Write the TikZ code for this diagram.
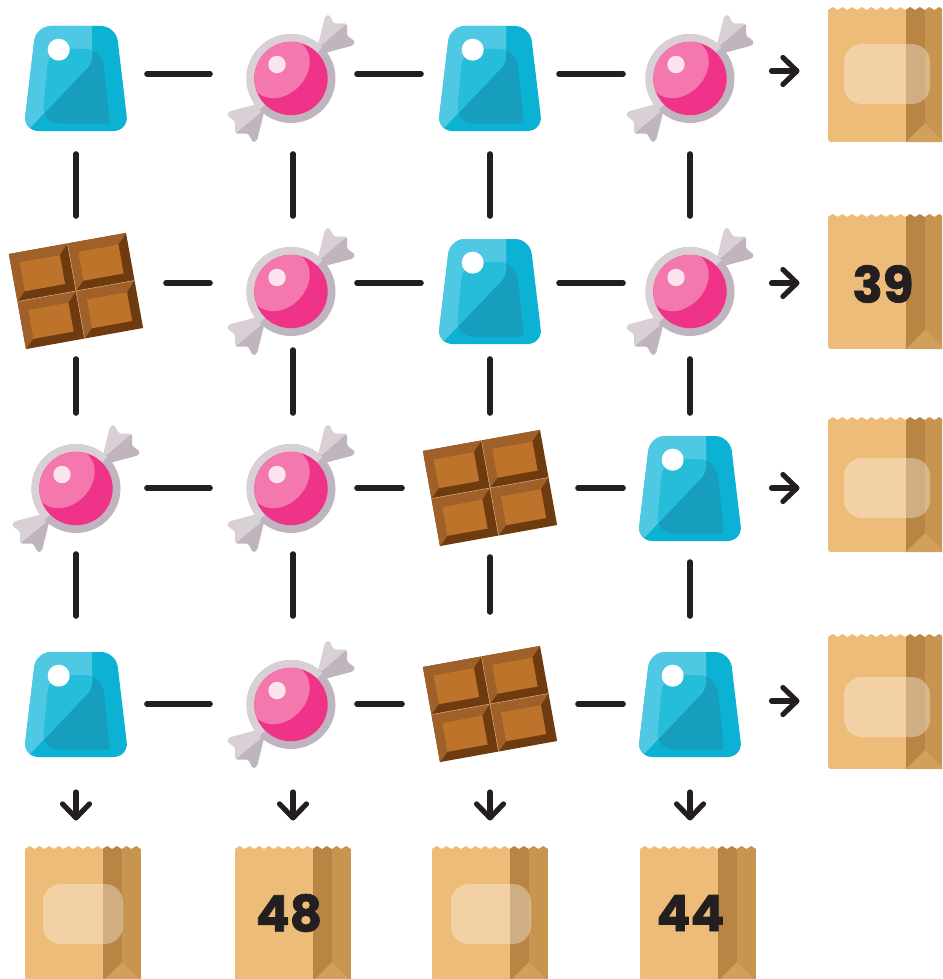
\documentclass[tikz,border=0pt]{standalone}
\usepackage{fontspec}
\newfontfamily\numfont[FakeBold=1.5]{Poppins Bold}
\usetikzlibrary{arrows.meta}
\definecolor{ink}{HTML}{231F20}
\definecolor{gumbase}{HTML}{0CB2D3}
\definecolor{gumlight}{HTML}{4FC8E3}
\definecolor{gumin}{HTML}{179EBE}
\definecolor{guminl}{HTML}{25BDD9}
\definecolor{wrapl}{HTML}{D8D0D5}
\definecolor{wrapd}{HTML}{C0B4BF}
\definecolor{pinkd}{HTML}{EF3389}
\definecolor{pinkl}{HTML}{F478AE}
\definecolor{chocd}{HTML}{6E3B10}
\definecolor{chocm}{HTML}{9F602A}
\definecolor{chocl}{HTML}{BD7329}
\definecolor{bagm}{HTML}{EDBC78}
\definecolor{bagd}{HTML}{B98545}
\definecolor{bags}{HTML}{C7954F}
\definecolor{bagt}{HTML}{D1A05A}
\tikzset{
  cell/.style={coordinate},
  link/.style={draw=ink, line width=5.6pt, line cap=round, shorten <=#1},
  outarrow/.style={draw=ink, line width=5.2pt, line cap=round, -{Straight Barb[length=14pt,width=27pt,round]}},
  plate/.style={fill=white, opacity=.33, rounded corners=18pt, minimum height=60pt, inner sep=0pt, minimum width=#1},
  num/.style={text=ink, font=\numfont\fontsize{50}{50}\selectfont, inner sep=0pt},
  bagbox/.style={minimum width=116pt, minimum height=135pt, inner sep=0pt, anchor=north west},
  gum/.pic={
    \begin{scope}
      \clip[rounded corners=15pt] (-40,-52) -- (40,-52) -- (52.5,53) -- (-52.5,53) -- cycle;
      \fill[gumbase] (-60,-60) rectangle (60,60);
      \fill[gumin, rounded corners=3pt] (-34,45.5) -- (34,45.5) [rounded corners=17pt] -- (26,-29) -- (-27,-29) -- cycle;
      \clip (-60,-60) -- (16,-60) -- (16,-23) .. controls (16,-15) and (12,-10) .. (7.5,-6.3) -- (-46,50) -- (-60,60) -- cycle;
      \fill[gumlight] (-60,-60) rectangle (60,60);
      \fill[guminl, rounded corners=3pt] (-34,45.5) -- (34,45.5) [rounded corners=17pt] -- (26,-29) -- (-27,-29) -- cycle;
    \end{scope}
    \fill[white] (-17.3,-28.3) circle[radius=11];
  },
  candy/.pic={
    \begin{scope}[rounded corners=1.5pt]
      \fill[wrapl] (26,-30) -- (34,-62) -- (38,-64) -- (43,-55) -- (56,-55) -- cycle;
      \fill[wrapd] (24,-28) -- (56,-55) -- (56,-43) -- (64,-37) -- (62,-33) -- (28,-24) -- cycle;
      \fill[wrapd] (-26,30) -- (-34,62) -- (-38,64) -- (-43,55) -- (-56,55) -- cycle;
      \fill[wrapl] (-24,28) -- (-56,55) -- (-56,43) -- (-64,37) -- (-62,33) -- (-28,24) -- cycle;
    \end{scope}
    \fill[wrapd] (0,0) circle[radius=44.5];
    \begin{scope}
      \clip (-60,60) -- (60,-60) -- (-60,-60) -- cycle;
      \fill[wrapl] (0,0) circle[radius=44.5];
    \end{scope}
    \fill[pinkd] (0,0) circle[radius=36.7];
    \begin{scope}
      \clip (0,0) circle[radius=36.7];
      \fill[pinkl, rotate around={45:(-11,-10)}] (-11,-10) ellipse[x radius=33, y radius=26];
    \end{scope}
    \fill[white, opacity=.8] (-14,-14) circle[radius=8.7];
  },
  choc/.pic={
    \begin{scope}[rotate=10.2]
      \foreach \cx/\cy in {-59.5/-48.3, 0/-48.3, -59.5/0, 0/0}{
        \begin{scope}[shift={(\cx,\cy)}]
          \fill[chocd] (0,0) rectangle (59.5,48.3);
          \fill[chocm] (0,0) -- (59.5,0) -- (50,10) -- (9,10) -- (9,39.5) -- (0,48.3) -- cycle;
          \fill[chocl] (9,10) rectangle (50,39.5);
        \end{scope}
      }
      \draw[line width=.5pt, chocl!60!white] (0,-48.3) -- (0,48.3) (-59.5,0) -- (59.5,0);
    \end{scope}
  },
  bag/.pic={
    \begin{scope}
      \clip (0,3) \foreach \k in {0,...,11}{
        .. controls ({\k*9.67+2.4},3) and ({\k*9.67+2.4},0) .. ({\k*9.67+4.83},0)
        .. controls ({\k*9.67+7.2},0) and ({\k*9.67+7.2},3) .. ({(\k+1)*9.67},3)
      } -- (116,135) -- (3,135) .. controls (1,135) and (0,134) .. (0,132) -- cycle;
      \fill[bagm] (0,0) rectangle (78,135);
      \fill[bagd] (78,0) rectangle (97,135);
      \fill[bags] (97,0) rectangle (116,135);
      \fill[bagt] (78,135) -- (97,116) -- (116,135) -- cycle;
    \end{scope}
  }
}
\begin{document}
\begin{tikzpicture}[x=1pt, y=-1pt]
  \clip (0,0) rectangle (942,979);
  % the sweets
  \foreach \x/\y in {76/78, 490/78, 490/291, 690/488, 76/704, 690/704}
    \pic at (\x,\y) {gum};
  \foreach \x/\y in {291/78.5, 690/78.5, 291/291.5, 690/291.5, 76/488.5, 291/488.5, 291/704.5}
    \pic at (\x,\y) {candy};
  \foreach \x/\y in {76/291, 490/488, 490/704}
    \pic at (\x,\y) {choc};
  % the bags
  \foreach \nm/\x/\y in {br1/828/7, br2/828/214, br3/828/417, br4/828/634, bd1/25/846, bd2/235/846, bd3/432/846, bd4/640/846}{
    \pic at (\x,\y) {bag};
    \node[bagbox] (\nm) at (\x,\y) {};
  }
  \node[plate=86pt] (pr1) at (887,74) {};
  \node[plate=86pt] (pr3) at (887,488) {};
  \node[plate=86pt] (pr4) at (887,707) {};
  \node[plate=80pt] (pd1) at (83,914) {};
  \node[plate=80pt] (pd3) at (491,914) {};
  \node[num] (n39) at (883,284) {39};
  \node[num] (n48) at (289,913) {48};
  \node[num] (n44) at (690.5,913) {44};
  % grid points the links run between
  \foreach \r/\y in {1/74, 2/283, 3/488, 4/704}
    \foreach \c/\x in {1/76, 2/293, 3/490, 4/690}
      \node[cell] (c\r\c) at (\x,\y) {};
  \foreach \a/\b/\s/\e in {c11/c12/71/83, c12/c13/64/69, c13/c14/69/67,
      c21/c22/90/83, c22/c23/64/69, c23/c24/69/67,
      c31/c32/71/83, c32/c33/64/88, c33/c34/88/67,
      c41/c42/71/83, c42/c43/64/88, c43/c44/88/67,
      c11/c21/80/67, c12/c22/80/67, c13/c23/80/67, c14/c24/80/67,
      c21/c31/76/75, c22/c32/67/75, c23/c33/76/75, c24/c34/76/75,
      c31/c41/66/88, c32/c42/66/88, c33/c43/69/92, c34/c44/74/88}
    \draw[link=\s pt, shorten >=\e pt] (\a) -- (\b);
  % arrows out to the bags
  \foreach \i/\y in {1/71, 2/283, 3/488, 4/701}{
    \coordinate (ar\i) at (771.5,\y);
    \draw[outarrow, shorten >=28.5pt] (ar\i) -- (ar\i -| br\i.west);
  }
  \foreach \i/\x in {1/76, 2/293, 3/490, 4/690}{
    \coordinate (ad\i) at (\x,792);
    \draw[outarrow, shorten >=25.5pt] (ad\i) -- (ad\i |- bd\i.north);
  }
\end{tikzpicture}
\end{document}
